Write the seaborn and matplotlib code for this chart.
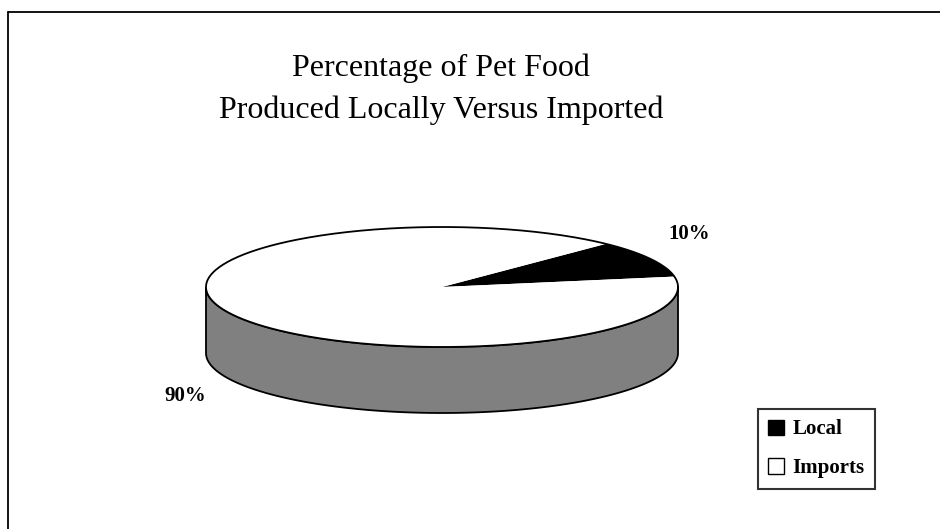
import numpy as np
import matplotlib
matplotlib.use("Agg")
import matplotlib.pyplot as plt
import seaborn as sns
from matplotlib.patches import Polygon, Patch

# data
labels = ["Local", "Imports"]
shares = [10, 90]
top_colors = ["black", "white"]
side_colors = ["#404040", "#808080"]
title = "Percentage of Pet Food\nProduced Locally Versus Imported"

sns.set_style("white")
plt.rcParams['font.family'] = ['Liberation Serif', 'DejaVu Serif']
plt.rcParams['text.color'] = 'black'

fig = plt.figure(figsize=(9.4, 5.29), dpi=100)
ax = fig.add_axes([0, 0, 1, 1])
ax.set_xlim(0, 940)
ax.set_ylim(529, 0)
ax.axis("off")

# outer frame (runs off right and bottom)
ax.plot([8, 8], [529, 12], color="black", lw=1.3)
ax.plot([8, 940], [12, 12], color="black", lw=1.3)

# pie geometry (pixel space)
cx, cy = 442, 287
rx, ry = 236, 60
depth = 66
start = 10.0

total = sum(shares)
angles = np.cumsum([0] + [s / total * 360 for s in shares]) + start


def pt(t, dz=0):
    t = np.radians(t)
    return cx + rx * np.cos(t), cy - ry * np.sin(t) + dz


# sides first (front half only)
for i in range(len(shares)):
    a0, a1 = angles[i], angles[i + 1]
    for lo, hi in [(180, 360), (540, 720)]:
        s0, s1 = max(a0, lo), min(a1, hi)
        if s1 <= s0:
            continue
        ts = np.linspace(s0, s1, 200)
        top = [pt(t) for t in ts]
        bot = [pt(t, depth) for t in ts[::-1]]
        ax.add_patch(Polygon(top + bot, closed=True, facecolor=side_colors[i],
                             edgecolor="black", lw=1.3, zorder=2))

# top face
for i in range(len(shares)):
    ts = np.linspace(angles[i], angles[i + 1], 300)
    poly = [(cx, cy)] + [pt(t) for t in ts]
    ax.add_patch(Polygon(poly, closed=True, facecolor=top_colors[i],
                         edgecolor="none", zorder=3))
# outline of top face
ts = np.linspace(0, 360, 400)
xy = np.array([pt(t) for t in ts])
ax.plot(xy[:, 0], xy[:, 1], color="black", lw=1.3, zorder=4)

# percent labels
for i in range(len(shares)):
    m = np.radians((angles[i] + angles[i + 1]) / 2)
    lx = cx - 5 + 1.21 * rx * np.cos(m)
    ly = cy - (ry * 1.2 + 40) * np.sin(m)
    if np.sin(m) < 0:
        ly += depth * 0.85
    ax.text(lx, ly, f"{shares[i]}%", ha="center", va="center",
            fontsize=15, fontweight="bold", zorder=5)

ax.text(441, 89, title, ha="center", va="center", fontsize=23,
        linespacing=1.55)

handles = [Patch(facecolor=top_colors[i], edgecolor="black", label=labels[i])
           for i in range(len(labels))]
leg = ax.legend(handles=handles, loc="upper left",
                bbox_to_anchor=(758 / 940, 1 - 409 / 529),
                frameon=True, fancybox=False, shadow=False,
                handlelength=0.75, handleheight=0.75, handletextpad=0.4,
                borderpad=0.5, borderaxespad=0, labelspacing=0.9,
                prop={"weight": "bold", "size": 15})
leg.get_frame().set_edgecolor("black")
leg.get_frame().set_linewidth(1.5)

fig.savefig("out.png", dpi=100)
